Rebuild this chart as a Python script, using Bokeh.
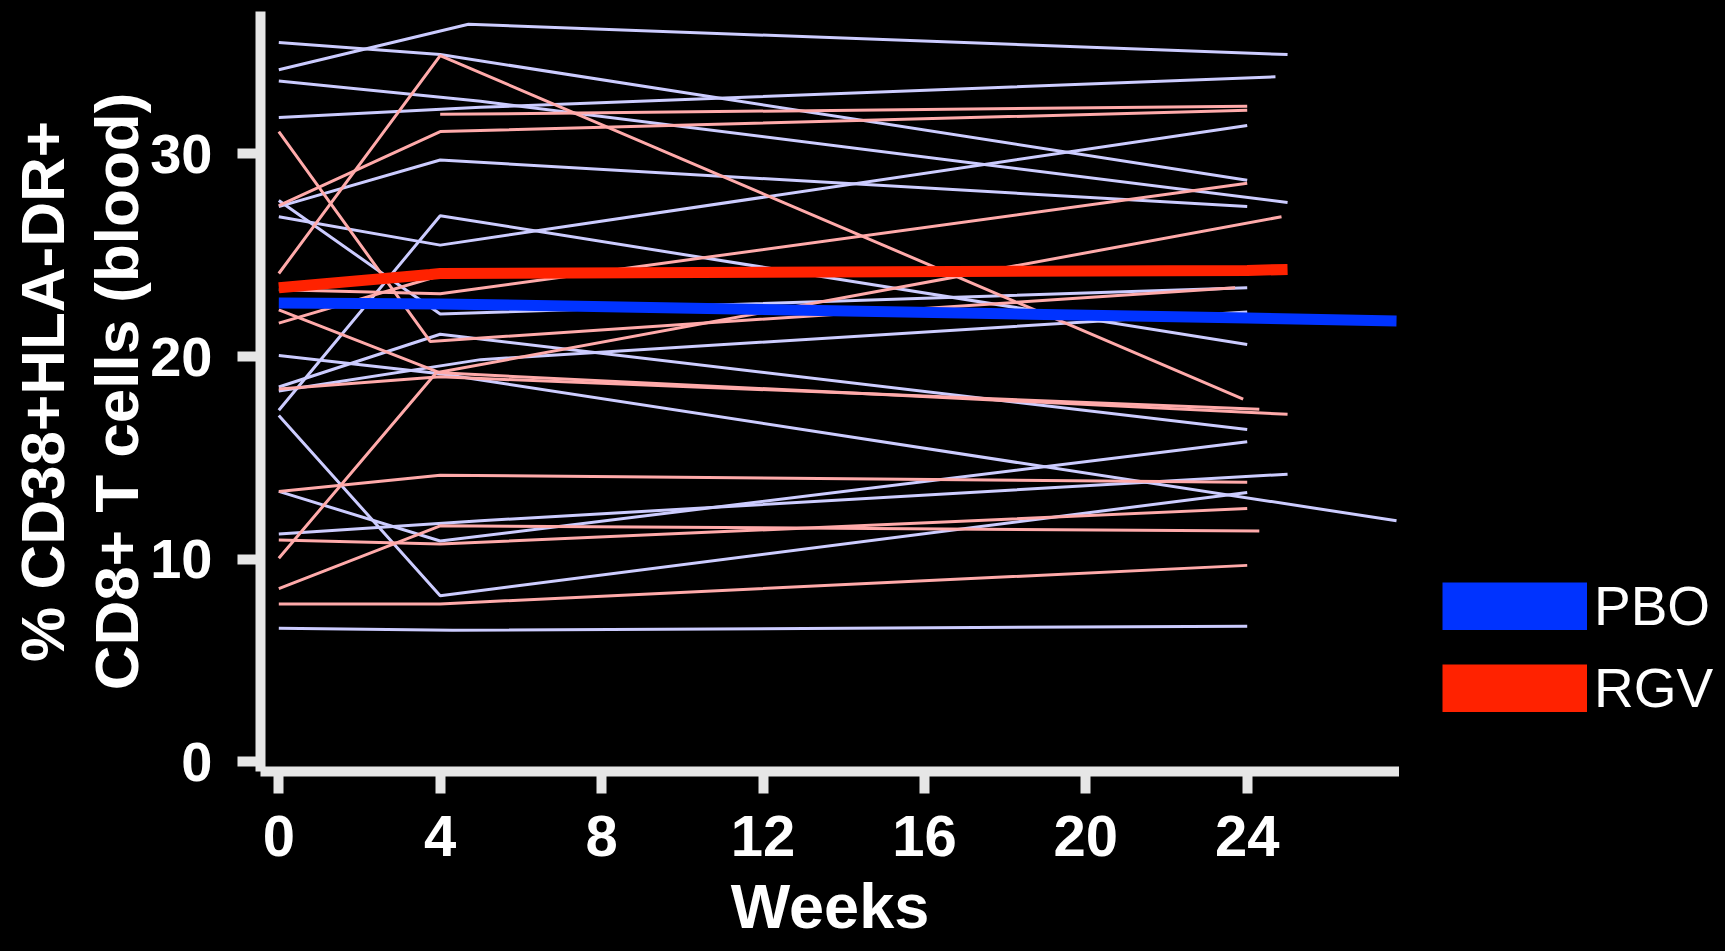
import math
from bokeh.plotting import figure
from bokeh.layouts import row
from bokeh.models import Range1d, FixedTicker, Legend, LegendItem
from bokeh.embed import file_html
from bokeh.resources import INLINE

# ---------------- data ----------------
week_ticks = [0, 4, 8, 12, 16, 20, 24]
value_ticks = [0, 10, 20, 30]

# placebo (PBO) individual subjects
pbo_weeks = [
    [0, 4, 24], [0, 4.7, 25], [0, 5, 25], [0, 5, 24.7], [0, 4, 24],
    [0, 4, 24], [0, 4, 24], [0, 4, 27.7], [0, 4, 24], [0, 5, 24],
    [0, 4, 24], [0, 4, 24], [0, 4, 24], [0, 5, 25], [0, 4.3, 24],
]
pbo_values = [
    [35.5, 34.9, 28.7], [34.15, 36.4, 34.9], [33.6, 32.6, 27.6], [31.8, 32.3, 33.8], [27.7, 22.1, 23.4],
    [27.4, 29.7, 27.4], [26.9, 25.5, 31.4], [20.05, 19.15, 11.9], [18.5, 21.1, 16.4], [18.3, 19.85, 22.2],
    [17.35, 26.95, 20.6], [17.1, 8.2, 13.3], [13.35, 10.9, 15.8], [11.25, 11.9, 14.2], [6.6, 6.5, 6.7],
]

# treatment arm (RGV) individual subjects
rgv_weeks = [
    [0, 3.75, 23.7], [0, 4, 24], [4, 24], [0, 4, 23.9], [0, 4, 24],
    [0, 4, 24], [0, 4, 25], [0, 4, 24.3], [0, 4, 24], [0, 4, 24],
    [0, 3.9, 24.85], [0, 4, 24.3], [0, 4, 24],
]
rgv_values = [
    [31.1, 20.75, 23.4], [27.45, 31.1, 32.15], [31.95, 32.35], [24.1, 34.85, 17.9], [23.3, 23.1, 28.55],
    [21.65, 24.0, 24.2], [22.3, 19.2, 17.15], [18.4, 19.0, 17.4], [13.35, 14.15, 13.8], [10.95, 10.75, 12.5],
    [10.05, 19.2, 26.9], [8.55, 11.65, 11.4], [7.8, 7.8, 9.7],
]

# group means
pbo_mean_weeks = [0, 4, 24, 27.7]
pbo_mean_values = [22.65, 22.6, 21.9, 21.75]
rgv_mean_weeks = [0, 3.75, 4, 24, 25]
rgv_mean_values = [23.4, 24.05, 24.1, 24.25, 24.3]

group_labels = ["PBO", "RGV"]
x_title = "Weeks"
y_title = "% CD38+HLA-DR+\nCD8+ T cells (blood)"

# ---------------- styling ----------------
BG = "black"
AXIS = "#E6E6E6"
PBO_LIGHT = "#CCCCFF"
RGV_LIGHT = "#FFAAAA"
PBO_DARK = "#0033FF"
RGV_DARK = "#FF2200"
FONT = "Liberation Sans"

p = figure(
    width=1399, height=951,
    x_range=Range1d(-0.4535, 27.774), y_range=Range1d(-0.469, 37.025),
    output_backend="svg", toolbar_location=None,
    min_border_left=260, min_border_right=0, min_border_top=11, min_border_bottom=180,
    background_fill_color=BG, border_fill_color=BG,
)
p.grid.visible = False
p.outline_line_color = None

for ax in (p.xaxis[0], p.yaxis[0]):
    ax.axis_line_color = AXIS
    ax.axis_line_width = 10
    ax.major_tick_line_color = AXIS
    ax.major_tick_line_width = 10
    ax.major_tick_in = 0
    ax.minor_tick_line_color = None
    ax.major_label_text_color = "white"
    ax.major_label_text_font = FONT
    ax.major_label_text_font_style = "bold"
    ax.axis_label_text_color = "white"
    ax.axis_label_text_font = FONT
    ax.axis_label_text_font_style = "bold"

xa, ya = p.xaxis[0], p.yaxis[0]
xa.ticker = FixedTicker(ticks=week_ticks)
ya.ticker = FixedTicker(ticks=value_ticks)
xa.major_tick_out = 22
ya.major_tick_out = 23
xa.major_label_text_font_size = "58px"
ya.major_label_text_font_size = "56px"
xa.major_label_standoff = 22
ya.major_label_standoff = 25

xa.axis_label = x_title
xa.axis_label_text_font_size = "63px"
xa.axis_label_standoff = 12

ya.axis_label = y_title
ya.axis_label_text_font_size = "62px"
ya.axis_label_text_line_height = 1.08
ya.axis_label_standoff = -4

# individual subject lines
for wk, vals in zip(pbo_weeks, pbo_values):
    p.line(wk, vals, line_color=PBO_LIGHT, line_width=3)
for wk, vals in zip(rgv_weeks, rgv_values):
    p.line(wk, vals, line_color=RGV_LIGHT, line_width=3)

# group means
p.line(pbo_mean_weeks, pbo_mean_values, line_color=PBO_DARK, line_width=11)
p.line(rgv_mean_weeks, rgv_mean_values, line_color=RGV_DARK, line_width=11)

# ---------------- legend panel (separate figure to the right) ----------------
lf = figure(
    width=326, height=951, x_range=Range1d(0, 1), y_range=Range1d(0, 1),
    output_backend="svg", toolbar_location=None,
    x_axis_type=None, y_axis_type=None,
    min_border_left=0, min_border_right=0, min_border_top=0, min_border_bottom=0,
    background_fill_color=BG, border_fill_color=BG,
)
lf.grid.visible = False
lf.outline_line_color = None

# legend swatches: very thick line samples (placeholders with no visible data)
nan = [math.nan]
sw_pbo = lf.line(x=nan, y=nan, line_color=PBO_DARK, line_width=48)
sw_rgv = lf.line(x=nan, y=nan, line_color=RGV_DARK, line_width=48)
legend = Legend(
    items=[LegendItem(label=group_labels[0], renderers=[sw_pbo]),
           LegendItem(label=group_labels[1], renderers=[sw_rgv])],
    location=(43, 51),
    glyph_width=145, glyph_height=48, label_height=62,
    label_standoff=7, spacing=18, padding=0, margin=0,
    border_line_color=None, background_fill_alpha=0,
    label_text_font=FONT, label_text_font_size="55px", label_text_color="white",
)
lf.add_layout(legend)

layout = row(p, lf, spacing=0)

html = file_html(layout, INLINE)
html = html.replace("</head>", "<style>html, body { background-color: #000000 !important; }</style></head>", 1)
open("out.html", "w").write(html)
